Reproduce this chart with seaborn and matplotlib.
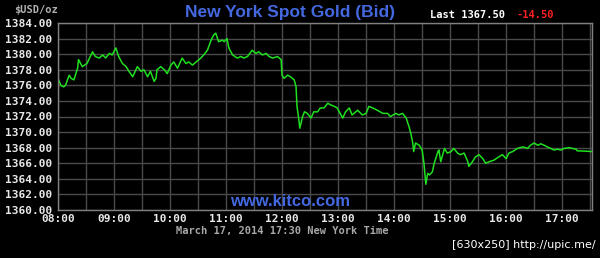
import matplotlib
matplotlib.use("Agg")
import matplotlib.pyplot as plt
import seaborn as sns
import pandas as pd

# minutes after 08:00 (New York time) and bid price in USD/oz
minutes = [0, 3, 6, 8, 12, 14, 17, 21, 22, 26, 31, 37, 40, 44, 48, 51, 55, 58, 62, 65,
           69, 73, 76, 80, 85, 89, 92, 96, 99, 103, 105, 106, 110, 114, 117, 121, 124, 128,
           133, 137, 140, 144, 148, 153, 156, 160, 164, 167, 169, 172, 176, 178, 181, 183,
           187, 192, 196, 199, 203, 208, 212, 215, 219, 223, 226, 230, 235, 239, 240, 242,
           246, 249, 253, 255, 256, 258, 259, 262, 264, 267, 271, 274, 278, 281, 285, 289,
           292, 296, 299, 305, 308, 312, 315, 321, 326, 330, 333, 337, 342, 348, 353, 356,
           362, 365, 369, 373, 376, 378, 380, 381, 383, 387, 390, 392, 394, 396, 398, 401,
           403, 407, 408, 410, 414, 417, 421, 424, 428, 431, 435, 439, 440, 444, 447, 451,
           455, 458, 462, 467, 472, 476, 480, 483, 487, 492, 498, 503, 506, 510, 514, 517,
           521, 524, 528, 531, 535, 539, 542, 548, 551, 555, 556, 573]
prices = [1376.9, 1376.0, 1375.8, 1376.0, 1377.3, 1376.9, 1376.7, 1378.2, 1379.3, 1378.4,
          1378.8, 1380.3, 1379.7, 1379.5, 1379.9, 1379.5, 1380.1, 1379.9, 1380.8, 1379.7,
          1378.8, 1378.4, 1377.8, 1377.1, 1378.4, 1377.8, 1378.0, 1377.1, 1377.8, 1376.5,
          1376.9, 1378.0, 1378.4, 1378.0, 1377.5, 1378.6, 1379.0, 1378.2, 1379.5, 1378.8,
          1379.0, 1378.6, 1379.0, 1379.5, 1379.9, 1380.5, 1381.8, 1382.5, 1382.7, 1381.6,
          1381.8, 1381.6, 1382.0, 1380.8, 1379.9, 1379.5, 1379.7, 1379.5, 1379.7, 1380.5,
          1380.1, 1380.3, 1379.9, 1380.1, 1379.7, 1379.5, 1379.7, 1379.3, 1377.3, 1376.9,
          1377.3, 1377.1, 1376.7, 1375.8, 1373.3, 1371.6, 1370.5, 1372.0, 1372.6, 1372.4,
          1371.8, 1372.6, 1372.6, 1373.1, 1373.1, 1373.7, 1373.5, 1373.3, 1373.1, 1371.8,
          1372.6, 1373.1, 1372.2, 1372.8, 1372.2, 1372.4, 1373.3, 1373.1, 1372.8, 1372.4,
          1372.4, 1372.0, 1372.4, 1372.2, 1372.4, 1371.8, 1370.7, 1369.8, 1368.6, 1367.5,
          1368.6, 1368.3, 1367.7, 1366.0, 1363.3, 1364.7, 1364.5, 1364.9, 1366.0, 1367.5,
          1367.7, 1366.2, 1367.9, 1367.3, 1367.5, 1367.9, 1367.3, 1367.1, 1367.3, 1366.2,
          1365.6, 1366.2, 1366.8, 1367.1, 1366.6, 1366.0, 1366.2, 1366.4, 1366.8, 1367.1,
          1366.6, 1367.3, 1367.5, 1367.9, 1368.1, 1367.9, 1368.3, 1368.6, 1368.3, 1368.5,
          1368.3, 1368.1, 1367.9, 1367.7, 1367.8, 1367.7, 1367.9, 1368.0, 1367.9, 1367.8,
          1367.6, 1367.5]

x_tick_minutes = [0, 60, 120, 180, 240, 300, 360, 420, 480, 540]
x_tick_labels = ["08:00", "09:00", "10:00", "11:00", "12:00", "13:00", "14:00",
                 "15:00", "16:00", "17:00"]
y_ticks = [1360, 1362, 1364, 1366, 1368, 1370, 1372, 1374, 1376, 1378, 1380, 1382, 1384]

title = "New York Spot Gold (Bid)"
unit_label = r"\$USD/oz"
last_label = "Last 1367.50"
change_label = "-14.50"
watermark = "www.kitco.com"
date_label = "March 17, 2014 17:30 New York Time"
credit = "[630x250] http://upic.me/"

sns.set_style("dark")
plt.rcParams["font.family"] = ["DejaVu Sans"]

df = pd.DataFrame({"minute": minutes, "price": prices})

fig = plt.figure(figsize=(6.0, 2.58), dpi=100, facecolor="black")
ax = fig.add_axes([58 / 600, 1 - 210 / 258, (592 - 58) / 600, (210 - 23) / 258])
ax.set_facecolor("black")

sns.lineplot(data=df, x="minute", y="price", ax=ax, color="#1fe01f", linewidth=1.1)

ax.set_xlim(0, 572)
ax.set_ylim(1360, 1384)
ax.set_xticks(x_tick_minutes)
ax.set_xticklabels(x_tick_labels)
ax.set_xticks(list(range(30, 572, 60)), minor=True)
ax.set_yticks(y_ticks)
ax.set_yticklabels([f"{v:.2f}" for v in y_ticks])
ax.set_xlabel("")
ax.set_ylabel("")

ax.grid(True, which="both", color="#4a4a4a", linewidth=1.0)
ax.tick_params(axis="both", which="both", length=0, colors="#e8e8e8")
ax.tick_params(axis="y", pad=4)
ax.tick_params(axis="x", pad=3)
for lab in ax.get_xticklabels() + ax.get_yticklabels():
    lab.set_family("DejaVu Sans Mono")
    lab.set_fontweight("bold")
    lab.set_fontsize(8)
    lab.set_color("#e8e8e8")
for s in ax.spines.values():
    s.set_visible(True)
    s.set_color("#808080")
    s.set_linewidth(1.0)

fig.text(36 / 600, 1 - 10 / 258, unit_label, ha="center", va="center",
         family="DejaVu Sans Mono", fontweight="bold", fontsize=7.5, color="#b0b0b0")
fig.text(290 / 600, 1 - 12 / 258, title, ha="center", va="center",
         family="Liberation Sans", fontweight="bold", fontsize=12.5, color="#4468e0")
fig.text(430 / 600, 1 - 15 / 258, last_label, ha="left", va="center",
         family="DejaVu Sans Mono", fontweight="bold", fontsize=7.5, color="#ffffff")
fig.text(517 / 600, 1 - 15 / 258, change_label, ha="left", va="center",
         family="DejaVu Sans Mono", fontweight="bold", fontsize=7.5, color="#ff2020")
fig.text(290 / 600, 1 - 202 / 258, watermark, ha="center", va="center",
         family="Liberation Sans", fontweight="bold", fontsize=12, color="#4468e0")
fig.text(282 / 600, 1 - 231 / 258, date_label, ha="center", va="center",
         family="DejaVu Sans Mono", fontweight="bold", fontsize=7.5, color="#a8a8a8")
fig.text(596 / 600, 1 - 245 / 258, credit, ha="right", va="center",
         family="DejaVu Sans", fontsize=8, color="#ffffff")

fig.savefig("out.png", dpi=100, facecolor="black")
